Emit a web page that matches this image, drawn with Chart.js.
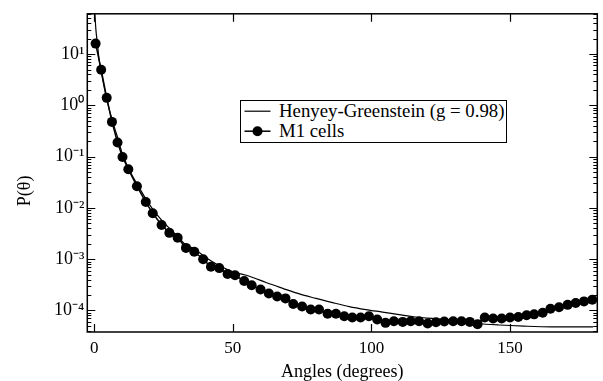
<!DOCTYPE html>
<html><head><meta charset="utf-8">
<script src="https://cdn.jsdelivr.net/npm/chart.js@4.4.0/dist/chart.umd.min.js"></script>
<style>
html,body{margin:0;padding:0;background:#fff;}
#wrap{position:relative;width:603px;height:381px;}
#legend{position:absolute;left:240px;top:100px;width:265px;height:41px;border:1.5px solid #000;background:#fff;font-family:"Liberation Serif",serif;font-size:18.8px;color:#000;}
#legend .txt{position:absolute;left:38px;height:20px;line-height:20px;white-space:nowrap;}
#legend svg{position:absolute;left:0;top:0;}
</style></head>
<body>
<div id="wrap">
<canvas id="c" width="603" height="381"></canvas>
<div id="legend">
<svg width="40" height="41"><line x1="3.5" y1="10.2" x2="29.5" y2="10.2" stroke="#000" stroke-width="1.2"/><line x1="3.5" y1="30.2" x2="29.5" y2="30.2" stroke="#000" stroke-width="1.5"/><circle cx="16.5" cy="30.2" r="5" fill="#000"/></svg>
<span class="txt" id="l1" style="top:0.2px"></span>
<span class="txt" id="l2" style="top:20.2px"></span>
</div>
</div>
<script>
// M1 cells measurements (angle in degrees, P(theta))
const angles = [0.5,2.5,4.5,6.4,8.4,10.2,12.3,15.4,18.6,21.1,24.3,27.1,30.1,33.1,36.1,39.3,42.1,45.1,48.1,50.8,54.1,56.8,60.0,63.0,66.0,69.0,71.8,75.0,78.1,81.1,84.2,87.2,90.2,93.1,96.1,99.1,102.1,105.1,108.1,111.3,114.2,117.2,120.3,123.3,126.3,129.5,132.5,135.5,138.3,140.9,143.9,147.0,150.0,153.0,156.0,158.7,161.8,164.6,167.7,170.8,173.7,176.7,179.7];
const m1Values = [16.0,4.95,1.40,0.476,0.189,0.098,0.0568,0.0265,0.0130,0.00785,0.00463,0.00326,0.00262,0.00166,0.00140,0.000996,0.000713,0.00067,0.000515,0.000487,0.000374,0.00031,0.000256,0.000214,0.000187,0.000172,0.000134,0.000119,0.000104,0.000104,0.0000865,0.0000865,0.0000768,0.0000726,0.0000726,0.0000768,0.0000665,0.0000573,0.0000617,0.0000598,0.0000617,0.0000617,0.0000557,0.000059,0.0000608,0.0000617,0.0000617,0.0000598,0.0000541,0.0000726,0.0000695,0.0000695,0.0000726,0.0000745,0.0000803,0.0000839,0.0000904,0.0001077,0.0001156,0.0001285,0.0001403,0.0001503,0.0001622];
// Henyey-Greenstein curve
const hgAngles = [0,0.25,0.6,1.15,1.8,2.5,3.5,4.5,5.5,6.5,7.5,8.5,10,12,14,16,18,20,23,26,30,33,36,40,45,50,56,62,68,74,80,86,92,98,104,110,116,123,130,138,146,155,165,180];
const hgValues = [90,60,30,16,7.5,4.6,2.4,1.35,0.8,0.52,0.34,0.23,0.12,0.065,0.04,0.026,0.017,0.0115,0.007,0.0046,0.0028,0.0019,0.0016,0.0011,0.00075,0.00057,0.000465,0.00035,0.00027,0.00021,0.000172,0.000142,0.000119,0.000104,0.000093,0.000083,0.0000745,0.000069,0.000063,0.0000557,0.000052,0.0000495,0.000048,0.000048];
const xTicks = [0,50,100,150];
const xTickLabels = ['0','50','100','150'];
const yTicks = [1e-4,1e-3,1e-2,1e-1,1,10];
const yTickLabels = ['10\u207B\u2074','10\u207B\u00B3','10\u207B\u00B2','10\u207B\u00B9','10\u2070','10\u00B9'];
const seriesNames = ['Henyey-Greenstein (g = 0.98)','M1 cells'];
const xTitle = 'Angles (degrees)';
const yTitle = 'P(\u03B8)';

document.getElementById('l1').textContent = seriesNames[0];
document.getElementById('l2').textContent = seriesNames[1];

const FONT = '"Liberation Serif", "Times New Roman", serif';

const frame = {
  id: 'frame',
  afterDatasetsDraw(chart) {
    const {ctx, chartArea: a, scales: {x, y}} = chart;
    ctx.save();
    ctx.strokeStyle = '#000';
    ctx.lineWidth = 1.5;
    ctx.strokeRect(a.left, a.top, a.right - a.left, a.bottom - a.top);
    ctx.lineWidth = 1.2;
    ctx.beginPath();
    xTicks.forEach(v => {
      const px = Math.round(x.getPixelForValue(v)) + 0.5;
      ctx.moveTo(px, a.bottom); ctx.lineTo(px, a.bottom - 8);
      ctx.moveTo(px, a.top); ctx.lineTo(px, a.top + 8);
    });
    for (let e = -6; e <= 2; e++) {
      for (let m = 1; m <= 9; m++) {
        const v = m * Math.pow(10, e);
        if (v < y.min || v > y.max) continue;
        const py = Math.round(y.getPixelForValue(v)) + 0.5;
        const L = m === 1 ? 8 : 4;
        ctx.moveTo(a.left, py); ctx.lineTo(a.left + L, py);
        ctx.moveTo(a.right, py); ctx.lineTo(a.right - L, py);
      }
    }
    ctx.stroke();
    ctx.restore();
  }
};

const nb = '\u00A0';
new Chart(document.getElementById('c'), {
  type: 'line',
  data: {
    datasets: [
      {
        label: seriesNames[0],
        data: hgAngles.map((a, i) => ({x: a, y: hgValues[i]})),
        borderColor: '#000', borderWidth: 1.2,
        pointRadius: 0, cubicInterpolationMode: 'monotone', clip: 0
      },
      {
        label: seriesNames[1],
        data: angles.map((a, i) => ({x: a, y: m1Values[i]})),
        borderColor: '#000', backgroundColor: '#000', borderWidth: 1.5,
        pointRadius: 5, pointBackgroundColor: '#000', pointBorderWidth: 0,
        pointHoverRadius: 5
      }
    ]
  },
  options: {
    responsive: false, animation: false, devicePixelRatio: 1,
    layout: {padding: {top: 6.7, right: 5.7, left: 0, bottom: 0}},
    plugins: {legend: {display: false}, tooltip: {enabled: false}},
    scales: {
      x: {
        type: 'linear', min: -2.5, max: 181.5,
        afterBuildTicks: s => { s.ticks = xTicks.map(v => ({value: v})); },
        ticks: {font: {family: FONT, size: 17}, color: '#000', padding: 6, maxRotation: 0, autoSkip: false,
          callback: (v, i) => xTickLabels[i]},
        grid: {display: false, drawTicks: false},
        border: {display: false},
        title: {display: true, text: xTitle, color: '#000', font: {family: FONT, size: 18, lineHeight: 1}, padding: {top: 0, bottom: 0}},
        afterFit: s => { s.height = 49; }
      },
      y: {
        type: 'logarithmic', min: 3.8e-5, max: 61,
        afterBuildTicks: s => { s.ticks = yTicks.map(v => ({value: v, major: true})); },
        ticks: {font: {family: FONT, size: 18}, color: '#000', padding: 3, autoSkip: false,
          callback: (v, i) => yTickLabels[i]},
        grid: {display: false, drawTicks: false},
        border: {display: false},
        title: {display: true, text: yTitle + nb.repeat(8), color: '#000', font: {family: FONT, size: 18}, padding: {top: 14, bottom: 0}},
        afterFit: s => { s.width = 87.3; }
      }
    }
  },
  plugins: [frame]
});
</script>
</body></html>
